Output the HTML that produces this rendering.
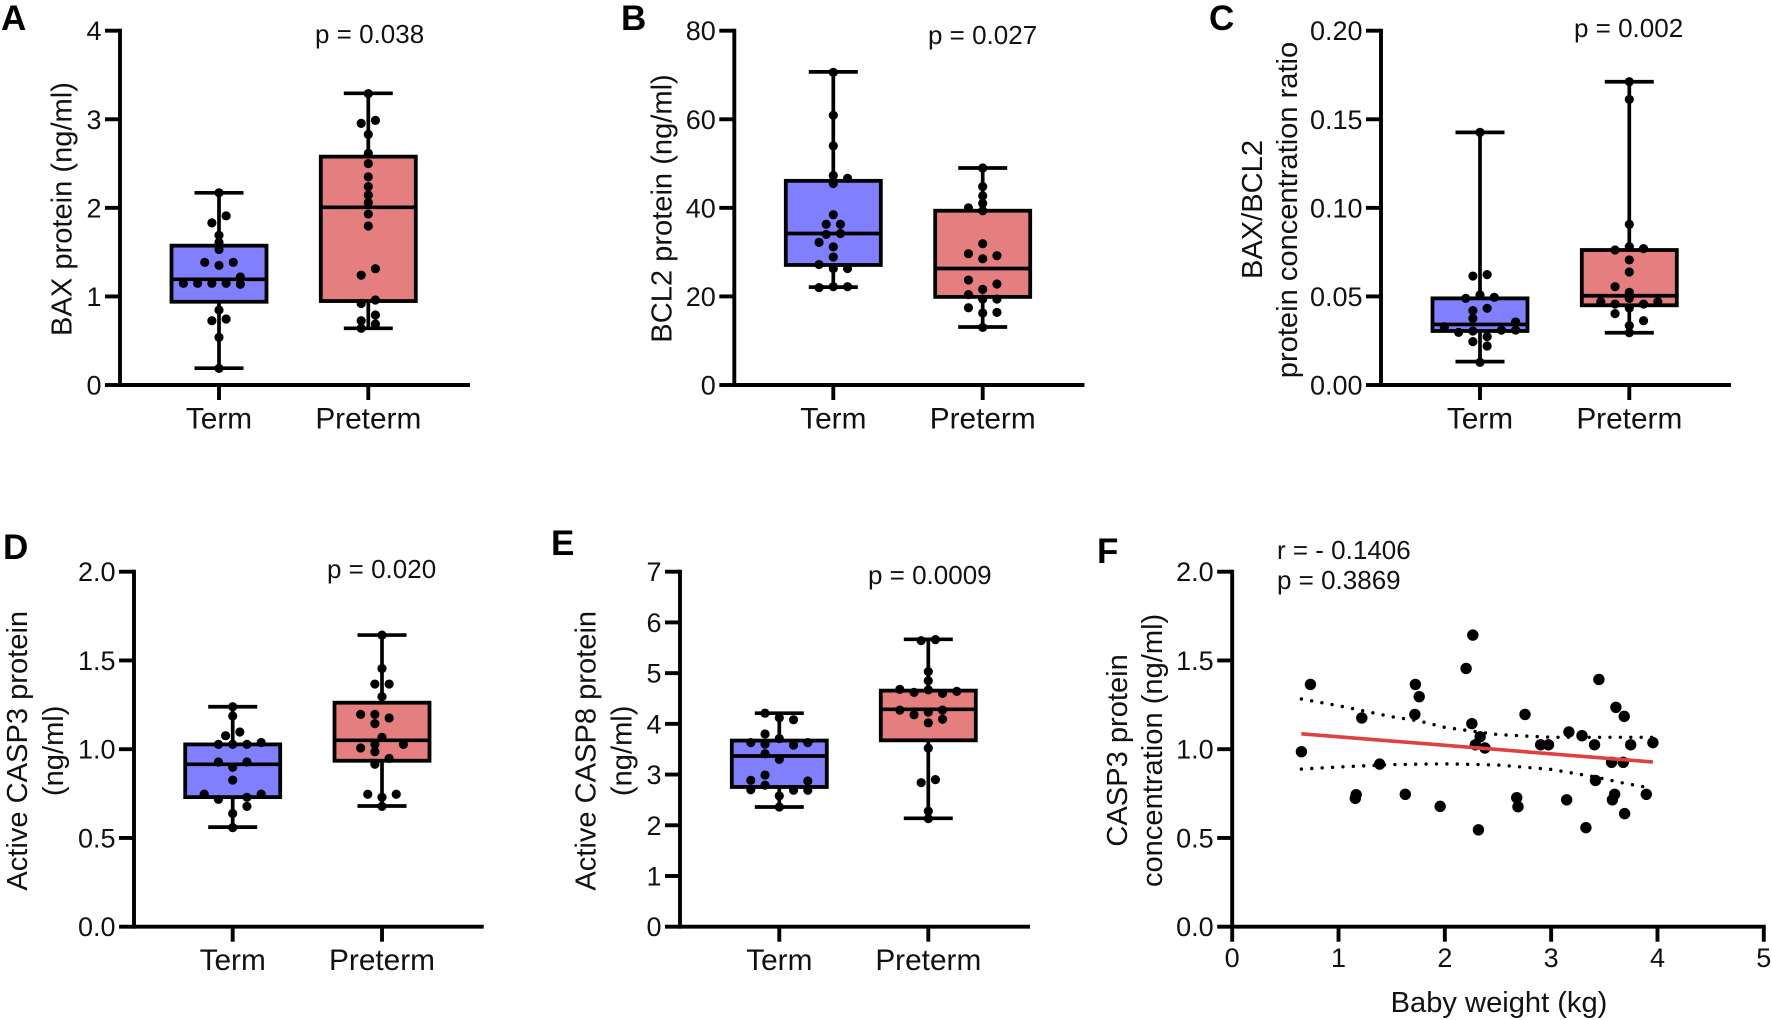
<!DOCTYPE html>
<html lang="en">
<head>
<meta charset="utf-8">
<title>BAX, BCL2, CASP3 and CASP8 protein levels in term and preterm infants</title>
<style>
  html, body { margin: 0; padding: 0; background: #fff; }
  #figure { display: block; width: 1772px; height: 1020px; background: #fff; }
  text { font-family: "Liberation Sans", Arial, sans-serif; fill: #111; }
  .letter { font-size: 35px; font-weight: 700; fill: #000; }
  .tick { font-size: 27px; }
  .title { font-size: 29.1px; text-anchor: middle; }
  .cat { font-size: 29.8px; text-anchor: middle; }
  .stat { font-size: 26px; }
</style>
</head>
<body>
<svg id="figure" xmlns="http://www.w3.org/2000/svg" width="1772" height="1020" viewBox="0 0 1772 1020">
  <g id="panel-a">
    <text class="letter" x="1" y="30">A</text>
    <text class="title" transform="translate(71.7 209) rotate(-90)">BAX protein (ng/ml)</text>
    <text class="stat" x="315" y="43">p = 0.038</text>
  </g>
  <g id="panel-b">
    <text class="letter" x="621" y="30">B</text>
    <text class="title" transform="translate(671.7 208.5) rotate(-90)">BCL2 protein (ng/ml)</text>
    <text class="stat" x="928" y="44">p = 0.027</text>
  </g>
  <g id="panel-c">
    <text class="letter" x="1209" y="30">C</text>
    <text class="title" transform="translate(1262 209.5) rotate(-90)">BAX/BCL2</text>
    <text class="title" transform="translate(1297 210) rotate(-90)">protein concentration ratio</text>
    <text class="stat" x="1574" y="37">p = 0.002</text>
  </g>
  <g id="panel-d">
    <text class="letter" x="3" y="559">D</text>
    <text class="title" transform="translate(27 750.8) rotate(-90)">Active CASP3 protein</text>
    <text class="title" transform="translate(63 750.8) rotate(-90)">(ng/ml)</text>
    <text class="stat" x="327" y="578">p = 0.020</text>
  </g>
  <g id="panel-e">
    <text class="letter" x="551" y="555">E</text>
    <text class="title" transform="translate(595.7 750.8) rotate(-90)">Active CASP8 protein</text>
    <text class="title" transform="translate(631.7 750.8) rotate(-90)">(ng/ml)</text>
    <text class="stat" x="868" y="584">p = 0.0009</text>
  </g>
  <g id="panel-f">
    <text class="letter" x="1097" y="563">F</text>
    <text class="title" transform="translate(1127 750.4) rotate(-90)">CASP3 protein</text>
    <text class="title" transform="translate(1161.8 750.4) rotate(-90)">concentration (ng/ml)</text>
    <text class="title" x="1499" y="1012">Baby weight (kg)</text>
    <text class="stat" x="1277" y="559">r = - 0.1406</text>
    <text class="stat" x="1277" y="589">p = 0.3869</text>
  </g>
</svg>
<script>
// ---- Shared category names ----
const categories = ['Term', 'Preterm'];

// ---- Panel A ----
const aTicks = ['0', '1', '2', '3', '4'];
const aTermBox = [0.19, 0.94, 1.193, 1.573, 2.17];
const aPretermBox = [0.64, 0.948, 2.006, 2.578, 3.293];
const aTermRows = [[2.17], [1.83, 1.91], [1.69], [1.61], [1.53], [1.385, 1.35, 1.385], [null, null, null, 1.22], [1.148, 1.148, 1.148, 1.148, 1.137, null], [0.847], [0.726, 0.745], [0.538], [0.188]];
const aPretermRows = [[3.29], [2.954, 2.988], [2.83], [2.615], [2.5], [2.35], [2.24], [2.145], [2.06], [1.93], [1.795], [1.24, 1.313], [0.92, 0.96], [0.726, 0.79], [0.64, 0.689]];

// ---- Panel B ----
const bTicks = ['0', '20', '40', '60', '80'];
const bTermBox = [22.1, 27.1, 34.2, 46.1, 70.7];
const bPretermBox = [13.1, 19.9, 26.3, 39.35, 49];
const bTermRows = [[70.6], [60.9], [54], [null, 47.3, 46.65], [45.5], [38.45], [36.3, 36.3], [34, 34.2], [32.2, 31.2, null], [28.9], [27.2, 26.3, 26.3], [22, 22.2, 22.2]];
const bPretermRows = [[49], [44.8], [42.7], [41], [40, 39.35, null], [31.9], [29.65, 28.5, 29.2], [23.7, 21.6, 22.8], [20.4, 19.4, 19.4], [17.45, 16.25, 16.4], [13]];

// ---- Panel C ----
const cTicks = ['0.00', '0.05', '0.10', '0.15', '0.20'];
const cTermBox = [0.0132, 0.0305, 0.0342, 0.0489, 0.1426];
const cPretermBox = [0.0295, 0.045, 0.0504, 0.0762, 0.1712];
const cTermRows = [[0.1426], [0.0615, 0.0623], [0.0489, 0.0508, 0.0495], [0.042, 0.0433], [0.0376, null], [null, null, null, null, null, 0.0356], [0.0329, 0.0297, 0.0305, null, 0.031, 0.031], [null, 0.0273], [0.0245, 0.022], [0.0128]];
const cPretermRows = [[0.1712], [0.1612], [0.0907], [0.0762, 0.0781, 0.077], [0.0706], [0.0638], [0.0555, null, null], [0.0523], [0.0505], [0.047, 0.0457, 0.0489, 0.0457, 0.047], [0.0435], [0.0403, null, null], [null, null, 0.0363], [0.0335], [0.0295]];

// ---- Panel D ----
const dTicks = ['0.0', '0.5', '1.0', '1.5', '2.0'];
const dTermBox = [0.561, 0.73, 0.915, 1.027, 1.239];
const dPretermBox = [0.68, 0.935, 1.05, 1.262, 1.643];
const dTermRows = [[1.239], [1.187], [1.076, 1.097], [null, 1.027, 1.027, 1.027, 1.038], [0.928, 0.898, 0.928], [0.826], [0.747, 0.717, null, 0.729, 0.747], [null, null, 0.678], [0.638], [0.558]];
const dPretermRows = [[1.643], [1.455], [1.367, 1.367], [1.296], [1.196, 1.196, 1.176, null], [1.144, null], [1.067], [1.007, 1.027, 0.948, 1.027], [0.986, null], [0.915, null], [0.746, 0.729, 0.746], [0.678]];

// ---- Panel E ----
const eTicks = ['0', '1', '2', '3', '4', '5', '6', '7'];
const eTermBox = [2.36, 2.755, 3.366, 3.67, 4.21];
const ePretermBox = [2.137, 3.675, 4.287, 4.655, 5.667];
const eTermRows = [[4.21, 4.12, 4.08], [3.8, null, null], [null, 3.71, null], [3.63, 3.6, null, 3.58, 3.63], [3.41, 3.3, null], [2.99, null, null], [2.886, null, null, null, 2.873], [2.7, 2.79, null, 2.69, 2.69], [2.58], [2.36]];
const ePretermRows = [[5.64, 5.66], [5.03], [4.85], [4.68, 4.62, 4.67, 4.6, 4.64], [4.27, 4.18, 4.23, 4.27, null], [null, null, 4.02, 4.09, null], [3.52], [2.84, 2.9], [2.28], [2.13]];

// ---- Panel F ----
const fYTicks = ['0.0', '0.5', '1.0', '1.5', '2.0'];
const fXTicks = ['0', '1', '2', '3', '4', '5'];
const fWeights = [0.651, 0.736, 1.219, 1.387, 1.166, 1.158, 1.628, 1.723, 1.759, 1.718, 1.956, 2.2, 2.263, 2.254, 2.332, 2.287, 2.377, 2.316, 2.676, 2.688, 2.754, 2.901, 2.975, 3.146, 3.167, 3.29, 3.327, 3.408, 3.449, 3.417, 3.568, 3.576, 3.597, 3.609, 3.687, 3.678, 3.748, 3.691, 3.895, 3.957];
const fCasp3 = [0.986, 1.365, 1.176, 0.916, 0.744, 0.723, 0.746, 1.365, 1.296, 1.196, 0.678, 1.455, 1.643, 1.144, 1.07, 1.025, 1.007, 0.546, 0.727, 0.676, 1.196, 1.025, 1.025, 0.715, 1.097, 1.076, 0.558, 1.025, 1.393, 0.824, 0.926, 0.715, 0.746, 1.236, 1.185, 0.926, 1.025, 0.637, 0.746, 1.037];
const fFitX = [0.651, 3.957];
const fFitY = [1.087, 0.928];
const fUpperX = [0.651, 1, 1.5, 1.75, 2, 2.5, 3, 3.5, 3.957];
const fUpperY = [1.283, 1.245, 1.183, 1.16, 1.123, 1.082, 1.067, 1.067, 1.067];
const fLowerX = [0.651, 1, 1.5, 2, 2.5, 3, 3.4, 3.7, 3.957];
const fLowerY = [0.888, 0.9, 0.913, 0.918, 0.911, 0.886, 0.845, 0.807, 0.779];

// ---- Drawing ----
const NS = 'http://www.w3.org/2000/svg';
const INK = '#000';
const BLUE = '#8080ff';
const RED = '#e57f7f';
const AXIS_WIDTH = 3.9;
const MARK_WIDTH = 3.7;

function make(parent, tag, attrs, text) {
  const node = document.createElementNS(NS, tag);
  for (const key in attrs) node.setAttribute(key, attrs[key]);
  if (text !== undefined) node.textContent = text;
  parent.appendChild(node);
  return node;
}

function linearScale(d0, d1, r0, r1) {
  return function (v) { return r0 + (v - d0) * (r1 - r0) / (d1 - d0); };
}

function drawYAxis(host, ticks, y, axisX, topY, bottomY) {
  const spine = make(host, 'line', { x1: axisX, x2: axisX, y1: topY - 1.9, y2: bottomY + 1.9, stroke: INK, 'stroke-width': AXIS_WIDTH });
  
  
  ticks.forEach(function (label) {
    const v = parseFloat(label);
    const tick = make(host, 'line', { x1: axisX - 15, x2: axisX, y1: y(v), y2: y(v), stroke: INK, 'stroke-width': AXIS_WIDTH });
    
    
    const text = make(host, 'text', { class: 'tick', x: axisX - 18.5, y: y(v) + 9.5, 'text-anchor': 'end' }, label);
    
    
  });
}

function drawBoxPanel(hostId, ticks, termBox, pretermBox, termRows, pretermRows, geo) {
  const host = document.getElementById(hostId);
  const y = linearScale(parseFloat(ticks[0]), parseFloat(ticks[ticks.length - 1]), geo.bottom, geo.top);
  const xCenters = [geo.x1, geo.x2];
  const step = 14.25;
  drawYAxis(host, ticks, y, geo.axisX, geo.top, geo.bottom);

  const base = make(host, 'line', { x1: geo.axisX, x2: geo.x2 + 101.7, y1: geo.bottom, y2: geo.bottom, stroke: INK, 'stroke-width': AXIS_WIDTH });
  
  

  [termBox, pretermBox].forEach(function (stats, i) {
    const cx = xCenters[i];
    const whisker = make(host, 'line', { x1: cx, x2: cx, y1: y(stats[0]), y2: y(stats[4]), stroke: INK, 'stroke-width': MARK_WIDTH });
    
    
    [stats[0], stats[4]].forEach(function (v) {
      const cap = make(host, 'line', { x1: cx - 24.5, x2: cx + 24.5, y1: y(v), y2: y(v), stroke: INK, 'stroke-width': MARK_WIDTH });
      
      
    });
    const box = make(host, 'rect', { x: cx - 47.5, width: 95, y: y(stats[3]), height: y(stats[1]) - y(stats[3]), fill: i === 0 ? BLUE : RED, stroke: INK, 'stroke-width': 3.8 });
    
    
    const median = make(host, 'line', { x1: cx - 47.5, x2: cx + 47.5, y1: y(stats[2]), y2: y(stats[2]), stroke: INK, 'stroke-width': MARK_WIDTH });
    
    
    const tick = make(host, 'line', { x1: cx, x2: cx, y1: geo.bottom, y2: geo.bottom + 15, stroke: INK, 'stroke-width': AXIS_WIDTH });
    
    
    const label = make(host, 'text', { class: 'cat', x: cx, y: geo.bottom + 43.5 }, categories[i]);
    
    
  });

  [termRows, pretermRows].forEach(function (rows, i) {
    rows.forEach(function (row) {
      row.forEach(function (v, slot) {
        if (v === null) return;
        const dot = make(host, 'circle', { cx: xCenters[i] + (slot - (row.length - 1) / 2) * step, cy: y(v), r: 4.6, fill: INK });
        
        
      });
    });
  });
}

drawBoxPanel('panel-a', aTicks, aTermBox, aPretermBox, aTermRows, aPretermRows, { axisX: 120, top: 30.7, bottom: 385, x1: 219, x2: 368.3 });
drawBoxPanel('panel-b', bTicks, bTermBox, bPretermBox, bTermRows, bPretermRows, { axisX: 734.3, top: 30.7, bottom: 385, x1: 833.3, x2: 982.7 });
drawBoxPanel('panel-c', cTicks, cTermBox, cPretermBox, cTermRows, cPretermRows, { axisX: 1381, top: 30.7, bottom: 385, x1: 1480, x2: 1629.3 });
drawBoxPanel('panel-d', dTicks, dTermBox, dPretermBox, dTermRows, dPretermRows, { axisX: 134, top: 571.7, bottom: 926.7, x1: 232.7, x2: 382 });
drawBoxPanel('panel-e', eTicks, eTermBox, ePretermBox, eTermRows, ePretermRows, { axisX: 680, top: 571.7, bottom: 926.7, x1: 779.3, x2: 928.3 });

(function drawScatter() {
  const host = document.getElementById('panel-f');
  const axisX = 1232.2, top = 571.7, bottom = 926.7, right = 1763.8;
  const x = linearScale(0, 5, axisX, right);
  const y = linearScale(0, 2, bottom, top);
  drawYAxis(host, fYTicks, y, axisX, top, bottom);

  const base = make(host, 'line', { x1: axisX, x2: right + 1.9, y1: bottom, y2: bottom, stroke: INK, 'stroke-width': AXIS_WIDTH });
  
  
  fXTicks.forEach(function (label) {
    const v = parseFloat(label);
    const tick = make(host, 'line', { x1: x(v), x2: x(v), y1: bottom, y2: bottom + 15, stroke: INK, 'stroke-width': AXIS_WIDTH });
    
    
    const text = make(host, 'text', { class: 'tick', x: x(v), y: 967, 'text-anchor': 'middle' }, label);
    
    
  });

  function pathFrom(xs, ys) {
    return xs.map(function (v, i) { return (i ? 'L' : 'M') + x(v).toFixed(1) + ' ' + y(ys[i]).toFixed(1); }).join(' ');
  }
  const upper = make(host, 'path', { d: pathFrom(fUpperX, fUpperY), fill: 'none', stroke: INK, 'stroke-width': 3.4, 'stroke-linecap': 'round', 'stroke-dasharray': '0 10.4' });
  
  
  const lower = make(host, 'path', { d: pathFrom(fLowerX, fLowerY), fill: 'none', stroke: INK, 'stroke-width': 3.4, 'stroke-linecap': 'round', 'stroke-dasharray': '0 10.4' });
  
  

  fWeights.forEach(function (w, i) {
    const dot = make(host, 'circle', { cx: x(w), cy: y(fCasp3[i]), r: 5.7, fill: INK });
    
    
  });

  const fit = make(host, 'path', { d: pathFrom(fFitX, fFitY), fill: 'none', stroke: '#df4040', 'stroke-width': 3.6 });
  
  
})();
</script>
</body>
</html>
